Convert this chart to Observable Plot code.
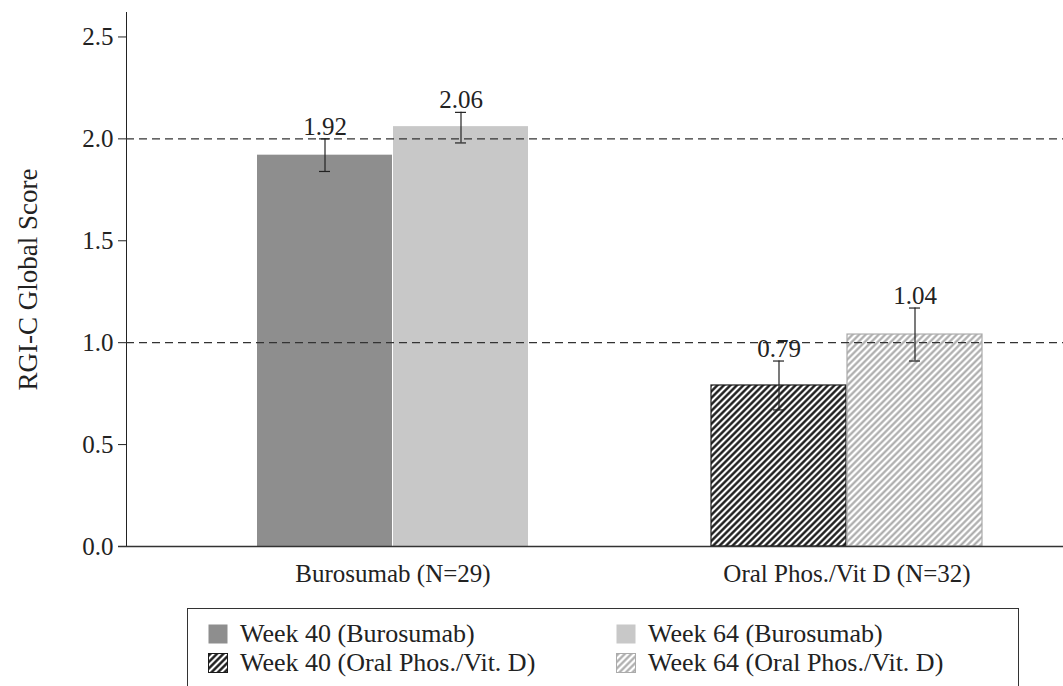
<!DOCTYPE html>
<html>
<head>
<meta charset="utf-8">
<script src="https://cdn.jsdelivr.net/npm/d3@7"></script>
<script src="https://cdn.jsdelivr.net/npm/@observablehq/plot@0.6"></script>
<style>
html, body { margin: 0; padding: 0; background: #fff; overflow: hidden; width: 1063px; height: 686px; }
body { font-family: "Liberation Serif", "Times New Roman", serif; color: #222; position: relative; }
#legend { position: absolute; left: 187px; top: 608px; width: 832px; height: 100px; border: 1.5px solid #333; box-sizing: border-box; }
.item { position: absolute; display: flex; align-items: center; font-size: 26px; line-height: 1; white-space: nowrap; }
.item svg { margin-right: 12px; }
</style>
</head>
<body>
<svg width="0" height="0" style="position:absolute">
  <defs>
    <pattern id="hatchDark" patternUnits="userSpaceOnUse" width="4.6" height="4.6" patternTransform="rotate(45)">
      <rect width="4.6" height="4.6" fill="#fff"/>
      <line x1="2.3" y1="0" x2="2.3" y2="4.6" stroke="#111" stroke-width="2.3"/>
    </pattern>
    <pattern id="hatchLight" patternUnits="userSpaceOnUse" width="4.6" height="4.6" patternTransform="rotate(45)">
      <rect width="4.6" height="4.6" fill="#fff"/>
      <line x1="2.3" y1="0" x2="2.3" y2="4.6" stroke="#a8a8a8" stroke-width="2.1"/>
    </pattern>
  </defs>
</svg>
<div id="chart"></div>
<div id="legend"></div>
<script>
// ---- data ----
const groups = ["Burosumab (N=29)", "Oral Phos./Vit D (N=32)"];
const week40 = [1.92, 0.79];
const week64 = [2.06, 1.04];
const week40Low = [1.84, 0.67];
const week40High = [2.00, 0.91];
const week64Low = [1.98, 0.91];
const week64High = [2.13, 1.17];
const yTicks = [0, 0.5, 1.0, 1.5, 2.0, 2.5];
const refLines = [1, 2];
const yTitle = "RGI-C Global Score";
const legendLabels = ["Week 40 (Burosumab)", "Week 64 (Burosumab)", "Week 40 (Oral Phos./Vit. D)", "Week 64 (Oral Phos./Vit. D)"];
const labelFmt = d3.format(".2f");

// ---- tables ----
const t40 = groups.map((g, i) => ({group: g, value: week40[i], low: week40Low[i], high: week40High[i], k: i}));
const t64 = groups.map((g, i) => ({group: g, value: week64[i], low: week64Low[i], high: week64High[i], k: i}));

const fill40 = d => d.k === 0 ? "#8e8e8e" : "url(#hatchDark)";
const stroke40 = d => d.k === 0 ? "none" : "#1a1a1a";
const fill64 = d => d.k === 0 ? "#c8c8c8" : "url(#hatchLight)";
const stroke64 = d => d.k === 0 ? "none" : "#ababab";

const half = 136, q = 68, cap = 6;

const chart = Plot.plot({
  width: 1063,
  height: 600,
  marginTop: 12,
  marginBottom: 54,
  marginLeft: 126,
  marginRight: 0,
  style: {fontFamily: "'Liberation Serif', 'Times New Roman', serif", fontSize: "25px", color: "#222", background: "#fff"},
  x: {domain: groups, range: [126, 1113], paddingInner: 0.402, paddingOuter: 0.286, label: null, tickSize: 0, tickPadding: 18},
  y: {domain: [0, 2.62], label: null, ticks: yTicks, tickFormat: d3.format(".1f"), tickSize: 8, tickPadding: 5, line: true},
  marks: [
    Plot.barY(t40, {x: "group", y: "value", fill: fill40, stroke: stroke40, strokeWidth: 1.2, insetRight: half}),
    Plot.barY(t64, {x: "group", y: "value", fill: fill64, stroke: stroke64, strokeWidth: 1.2, insetLeft: half}),
    Plot.ruleY(refLines, {stroke: "#333", strokeWidth: 1.3, strokeDasharray: "8,5"}),
    Plot.ruleX(t40, {x: "group", y1: "low", y2: "high", dx: -q, stroke: "#222", strokeWidth: 1.2}),
    Plot.ruleX(t64, {x: "group", y1: "low", y2: "high", dx: q, stroke: "#222", strokeWidth: 1.2}),
    Plot.tickY(t40, {x: "group", y: "low", insetLeft: q - cap, insetRight: half + q - cap, stroke: "#222", strokeWidth: 1.2}),
    Plot.tickY(t40, {x: "group", y: "high", insetLeft: q - cap, insetRight: half + q - cap, stroke: "#222", strokeWidth: 1.2}),
    Plot.tickY(t64, {x: "group", y: "low", insetLeft: half + q - cap, insetRight: q - cap, stroke: "#222", strokeWidth: 1.2}),
    Plot.tickY(t64, {x: "group", y: "high", insetLeft: half + q - cap, insetRight: q - cap, stroke: "#222", strokeWidth: 1.2}),
    Plot.text(t40, {x: "group", y: "high", text: d => labelFmt(d.value), dx: -q, dy: -4, lineAnchor: "bottom", fontSize: 25, fill: "#222"}),
    Plot.text(t64, {x: "group", y: "high", text: d => labelFmt(d.value), dx: q, dy: -4, lineAnchor: "bottom", fontSize: 25, fill: "#222"}),
    Plot.ruleY([0], {stroke: "#333", strokeWidth: 1.6, insetLeft: -8}),
    Plot.text([yTitle], {frameAnchor: "left", rotate: -90, textAnchor: "middle", dx: -98, fontSize: 27, fill: "#222"})
  ]
});
document.getElementById("chart").appendChild(chart);

// ---- legend ----
const legend = document.getElementById("legend");
const swatches = [
  {fill: "#8e8e8e", stroke: "none"},
  {fill: "#c8c8c8", stroke: "none"},
  {fill: "url(#hatchDark)", stroke: "#1a1a1a"},
  {fill: "url(#hatchLight)", stroke: "#ababab"}
];
const pos = [[20, 12], [428, 12], [20, 41], [428, 41]];
legendLabels.forEach((lab, i) => {
  const div = document.createElement("div");
  div.className = "item";
  div.style.left = pos[i][0] + "px";
  div.style.top = pos[i][1] + "px";
  const sw = swatches[i];
  div.innerHTML = `<svg width="20" height="20"><rect x="0.5" y="0.5" width="19" height="19" fill="${sw.fill}" stroke="${sw.stroke}"/></svg><span></span>`;
  div.querySelector("span").textContent = lab;
  legend.appendChild(div);
});
</script>
</body>
</html>
